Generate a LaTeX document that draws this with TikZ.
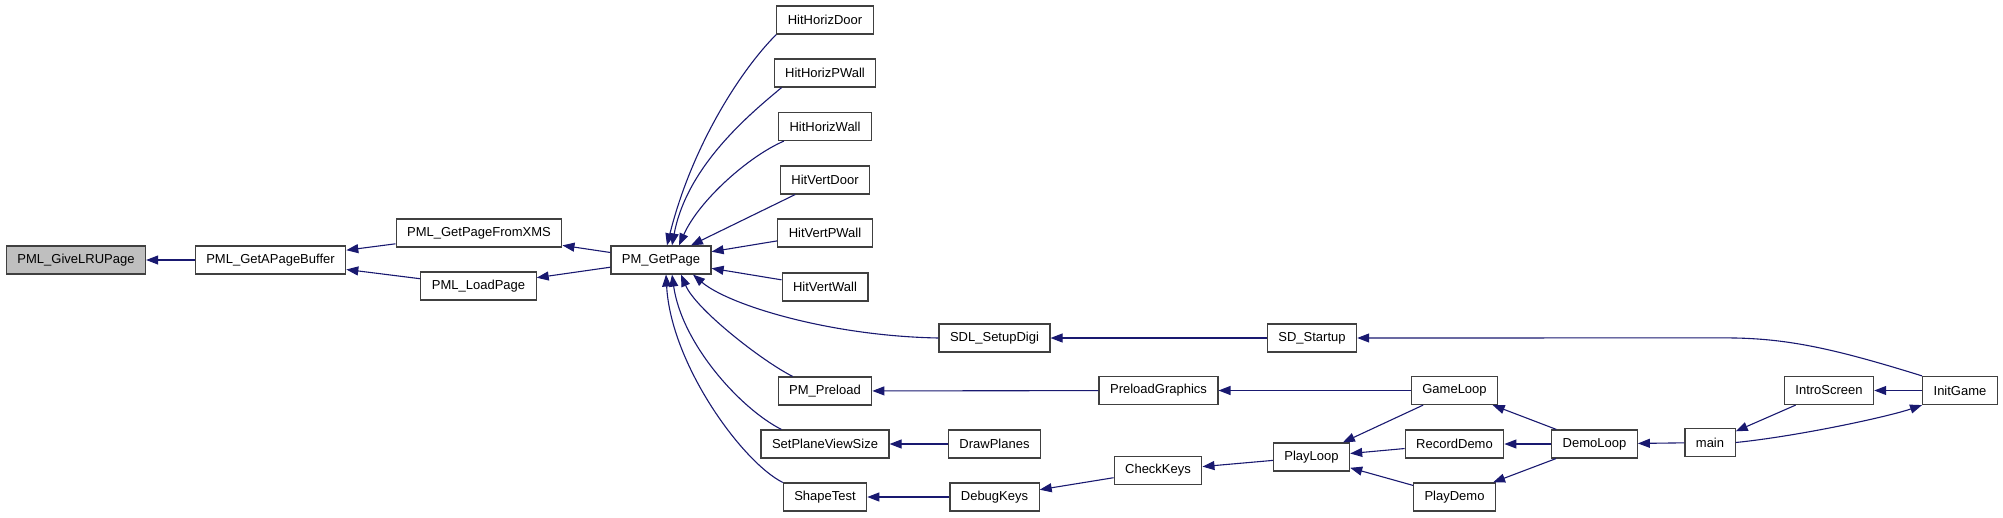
\documentclass[tikz,border=0pt]{standalone}
\usepackage{fontspec}
\setmainfont{Liberation Sans}
\usetikzlibrary{arrows.meta}
\definecolor{edgeblue}{HTML}{191970}

\begin{document}
\begin{tikzpicture}[x=1pt, y=-1pt, >={Triangle[length=12pt, width=9pt]},
    fn/.style={draw=black!75, line width=1.2pt, fill=white, minimum height=28pt, inner xsep=11pt, inner ysep=0pt, font=\fontsize{13}{15}\selectfont},
    call/.style={->, edgeblue, line width=1.1pt}]

        \useasboundingbox (0,0) rectangle (2003,517);

        % SOL TARAF: PML FONKSIYONLARI
        \node[fn, fill=black!25] (gvlru) at (76, 260) {PML\_GiveLRUPage};
        \node[fn] (gapb) at (270.5, 260) {PML\_GetAPageBuffer};
        \node[fn] (gpfx) at (479, 233) {PML\_GetPageFromXMS};
        \node[fn] (lpg) at (478.5, 286) {PML\_LoadPage};
        \node[fn] (pmg) at (661, 260) {PM\_GetPage};

        % PM_GetPage CAGIRANLAR
        \node[fn] (hhd) at (825, 20) {HitHorizDoor};
        \node[fn] (hhpw) at (825, 73) {HitHorizPWall};
        \node[fn] (hhw) at (825, 126.5) {HitHorizWall};
        \node[fn] (hvd) at (825, 180) {HitVertDoor};
        \node[fn] (hvpw) at (825, 233) {HitVertPWall};
        \node[fn] (hvw) at (825, 287) {HitVertWall};
        \node[fn] (pmp) at (825, 391) {PM\_Preload};
        \node[fn] (spvs) at (825, 444) {SetPlaneViewSize};
        \node[fn] (shp) at (825, 497) {ShapeTest};

        % ORTA KISIM
        \node[fn] (sdl) at (994.5, 338) {SDL\_SetupDigi};
        \node[fn] (drp) at (994.5, 444) {DrawPlanes};
        \node[fn] (dbk) at (994.5, 497) {DebugKeys};
        \node[fn] (plg) at (1158.5, 390.5) {PreloadGraphics};
        \node[fn] (chk) at (1158, 470.5) {CheckKeys};
        \node[fn] (sds) at (1312, 338) {SD\_Startup};
        \node[fn] (ply) at (1311.5, 457) {PlayLoop};

        % SAG TARAF
        \node[fn] (gml) at (1454.5, 390.5) {GameLoop};
        \node[fn] (rcd) at (1454.5, 444) {RecordDemo};
        \node[fn] (pld) at (1454.5, 497) {PlayDemo};
        \node[fn] (dml) at (1594.5, 444) {DemoLoop};
        \node[fn] (mn) at (1710, 442.5) {main};
        \node[fn] (its) at (1829, 390.5) {IntroScreen};
        \node[fn] (ing) at (1960, 390.5) {InitGame};

        % Oklar: PML zinciri
        \draw[call] (gapb) -- (gvlru);
        \draw[call] (gpfx) -- (gapb);
        \draw[call] (lpg) -- (gapb);
        \draw[call] (pmg) -- (gpfx);
        \draw[call] (pmg) -- (lpg);

        % Oklar: PM_GetPage yelpazesi
        \draw[call] (hhd.south west) .. controls +(-35,35) and +(25,-100) .. ([xshift=6pt]pmg.north);
        \draw[call] ([xshift=8pt]hhpw.south west) .. controls +(-30,25) and +(15,-80) .. ([xshift=11pt]pmg.north);
        \draw[call] ([xshift=6pt]hhw.south west) .. controls +(-35,15) and +(20,-45) .. ([xshift=18pt]pmg.north);
        \draw[call] (hvd) -- (pmg);
        \draw[call] (hvpw) -- (pmg);
        \draw[call] (hvw) -- (pmg);
        \draw[call] (sdl.west) .. controls +(-110,-2) and +(35,30) .. ([xshift=32pt]pmg.south);
        \draw[call] ([xshift=15pt]pmp.north west) .. controls +(-30,-15) and +(15,35) .. ([xshift=20pt]pmg.south);
        \draw[call] ([xshift=21pt]spvs.north west) .. controls +(-40,-20) and +(10,70) .. ([xshift=11pt]pmg.south);
        \draw[call] (shp.north west) .. controls +(-40,-20) and +(5,90) .. ([xshift=5pt]pmg.south);

        % Oklar: geri kalan
        \draw[call] (sds) -- (sdl);
        \draw[call] (plg) -- (pmp);
        \draw[call] (drp) -- (spvs);
        \draw[call] (dbk) -- (shp);
        \draw[call] (chk) -- (dbk);
        \draw[call] (ply) -- (chk);
        \draw[call] (gml) -- (plg);
        \draw[call] (gml) -- (ply);
        \draw[call] (rcd) -- (ply);
        \draw[call] (pld) -- (ply);
        \draw[call] (dml) -- (gml);
        \draw[call] (dml) -- (rcd);
        \draw[call] (dml) -- (pld);
        \draw[call] (mn) -- (dml);
        \draw[call] (its) -- (mn);
        \draw[call] (ing) -- (its);
        \draw[call] (mn.east) .. controls +(60,-6) and +(-35,12) .. (ing.south west);
        \draw[call] (ing.north west) .. controls +(-90,-28) and +(60,0) .. ++(-197,-38) -- (sds);
    \end{tikzpicture}
\end{document}
